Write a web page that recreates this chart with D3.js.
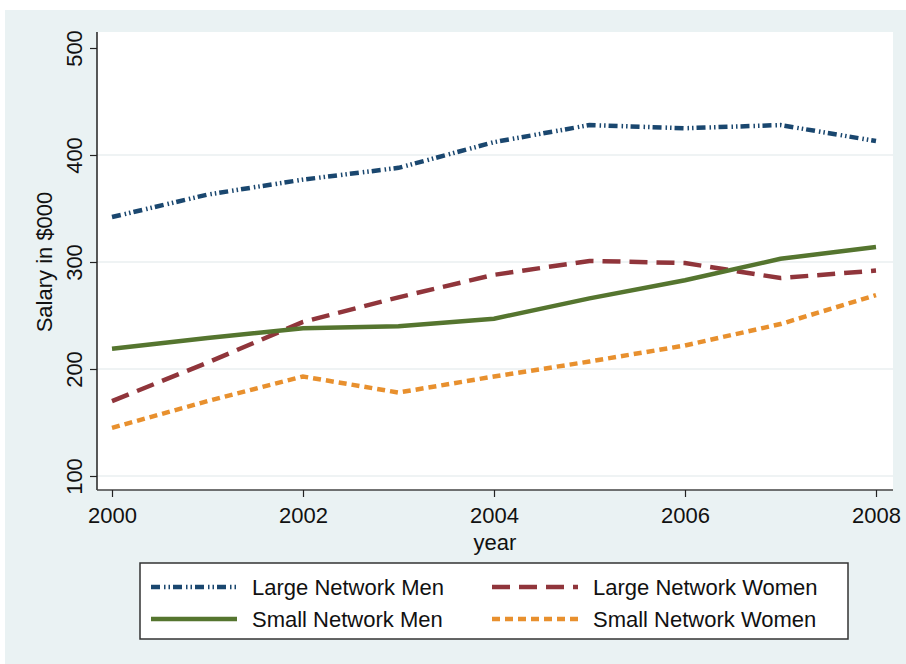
<!DOCTYPE html>
<html>
<head>
<meta charset="utf-8">
<script src="https://cdn.jsdelivr.net/npm/d3@7"></script>
<style>
  body { margin: 0; background: #fff; }
  text { font-family: "Liberation Sans", Arial, Helvetica, sans-serif; fill: #111; }
</style>
</head>
<body>
<div id="chart"></div>
<script>
// data
var years = [2000, 2001, 2002, 2003, 2004, 2005, 2006, 2007, 2008];
var largeMen   = [342, 363, 377, 388, 412, 428, 425, 428, 413];
var largeWomen = [170, 206, 244, 267, 288, 301, 299, 285, 292];
var smallMen   = [219, 229, 238, 240, 247, 266, 283, 303, 314];
var smallWomen = [145, 170, 193, 178, 193, 207, 222, 242, 269];
var yTicks = [100, 200, 300, 400, 500];
var xTicks = [2000, 2002, 2004, 2006, 2008];

var series = [
    { name: "Large Network Men",   values: largeMen,   color: "#1a476f", dash: "9,4,1.5,3,1.5,3" },
    { name: "Large Network Women", values: largeWomen, color: "#90353b", dash: "18,9" },
    { name: "Small Network Men",   values: smallMen,   color: "#55752f", dash: null },
    { name: "Small Network Women", values: smallWomen, color: "#e8902e", dash: "8,5" }
];

var width = 906, height = 664;
var fs = 22;

var svg = d3.select("#chart").append("svg")
    .attr("width", width)
    .attr("height", height);

// outer panel
svg.append("rect")
    .attr("x", 5).attr("y", 10)
    .attr("width", width - 5).attr("height", height - 10)
    .attr("fill", "#eaf2f3");

var plot = { left: 97, right: 893, top: 32, bottom: 490 };

svg.append("rect")
    .attr("x", plot.left).attr("y", plot.top)
    .attr("width", plot.right - plot.left).attr("height", plot.bottom - plot.top)
    .attr("fill", "#ffffff");

var x = d3.scaleLinear().domain([2000, 2008]).range([112, 876]);
var y = d3.scaleLinear().domain([100, 500]).range([476, 48]);

// grid
svg.append("g")
    .selectAll("line")
    .data(yTicks.filter(d => d < 500))
    .enter().append("line")
    .attr("x1", plot.left).attr("x2", plot.right)
    .attr("y1", d => y(d)).attr("y2", d => y(d))
    .attr("stroke", "#eaeff0")
    .attr("stroke-width", 1.5);

// y axis
var yAxis = svg.append("g")
    .attr("transform", `translate(${plot.left},0)`)
    .call(d3.axisLeft(y).tickValues(yTicks).tickSize(7).tickFormat(d3.format("d")));
yAxis.select(".domain").attr("d", `M0,${plot.top}V${plot.bottom}`).attr("stroke", "#222").attr("stroke-width", 1.5);
yAxis.selectAll(".tick line").attr("stroke", "#222").attr("stroke-width", 1.2);
yAxis.selectAll(".tick text")
    .attr("font-size", fs)
    .attr("x", 0).attr("dy", 0)
    .attr("text-anchor", "middle")
    .attr("transform", "translate(-15,0) rotate(-90)");

// x axis
var xAxis = svg.append("g")
    .attr("transform", `translate(0,${plot.bottom})`)
    .call(d3.axisBottom(x).tickValues(xTicks).tickSize(7).tickFormat(d3.format("d")));
xAxis.select(".domain").attr("d", `M${plot.left},0H${plot.right}`).attr("stroke", "#444").attr("stroke-width", 1.5);
xAxis.selectAll(".tick line").attr("stroke", "#222").attr("stroke-width", 1.2);
xAxis.selectAll(".tick text").attr("font-size", fs).attr("y", 17).attr("dy", "0.71em");

svg.append("text")
    .attr("x", 495).attr("y", 550)
    .attr("text-anchor", "middle")
    .attr("font-size", fs)
    .text("year");

svg.append("text")
    .attr("transform", `translate(52,${y(300)}) rotate(-90)`)
    .attr("text-anchor", "middle")
    .attr("font-size", fs)
    .text("Salary in $000");

// lines
var line = d3.line()
    .x((d, i) => x(years[i]))
    .y(d => y(d));

svg.append("g")
    .selectAll("path")
    .data(series)
    .enter().append("path")
    .attr("d", d => line(d.values))
    .attr("fill", "none")
    .attr("stroke", d => d.color)
    .attr("stroke-width", 4.5)
    .attr("stroke-dasharray", d => d.dash);

// legend
var legend = svg.append("g");
legend.append("rect")
    .attr("x", 140).attr("y", 563)
    .attr("width", 708).attr("height", 76)
    .attr("fill", "#fff")
    .attr("stroke", "#333")
    .attr("stroke-width", 1.5);

var cols = [151, 492];
var rows = [587, 619];
var item = legend.selectAll("g.item")
    .data(series)
    .enter().append("g")
    .attr("class", "item")
    .attr("transform", (d, i) => `translate(${cols[i % 2]},${rows[Math.floor(i / 2)]})`);

item.append("line")
    .attr("x1", 0).attr("x2", 86)
    .attr("stroke", d => d.color)
    .attr("stroke-width", 4.5)
    .attr("stroke-dasharray", d => d.dash);

item.append("text")
    .attr("x", 101).attr("y", 8)
    .attr("font-size", fs)
    .text(d => d.name);
</script>
</body>
</html>
